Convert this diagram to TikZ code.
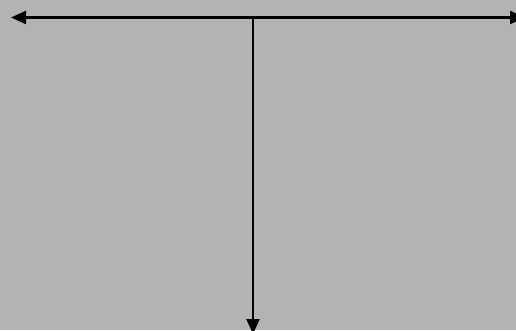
\documentclass[tikz,border=0pt]{standalone}
\usepackage{xcolor}
\usetikzlibrary{arrows.meta}
\definecolor{bggray}{HTML}{B3B3B3}

\begin{document}
\begin{tikzpicture}[x=1pt, y=-1pt, >={Triangle[length=15pt, width=13pt]},
    axis/.style={line width=2.2pt}]
  \fill[bggray] (0,0) rectangle (516,330);             % background
  \useasboundingbox (0,0) rectangle (516,330);
  % ends of the bar and of the stem
  \coordinate (leftend) at (11,17.5);
  \coordinate (rightend) at (525,17.5);
  \coordinate (joint) at (253,17.5);
  \coordinate (bottomend) at (253,334);
  \draw[axis, <->] (leftend) -- (rightend);
  \draw[axis, ->] (joint) -- (bottomend);
\end{tikzpicture}
\end{document}
